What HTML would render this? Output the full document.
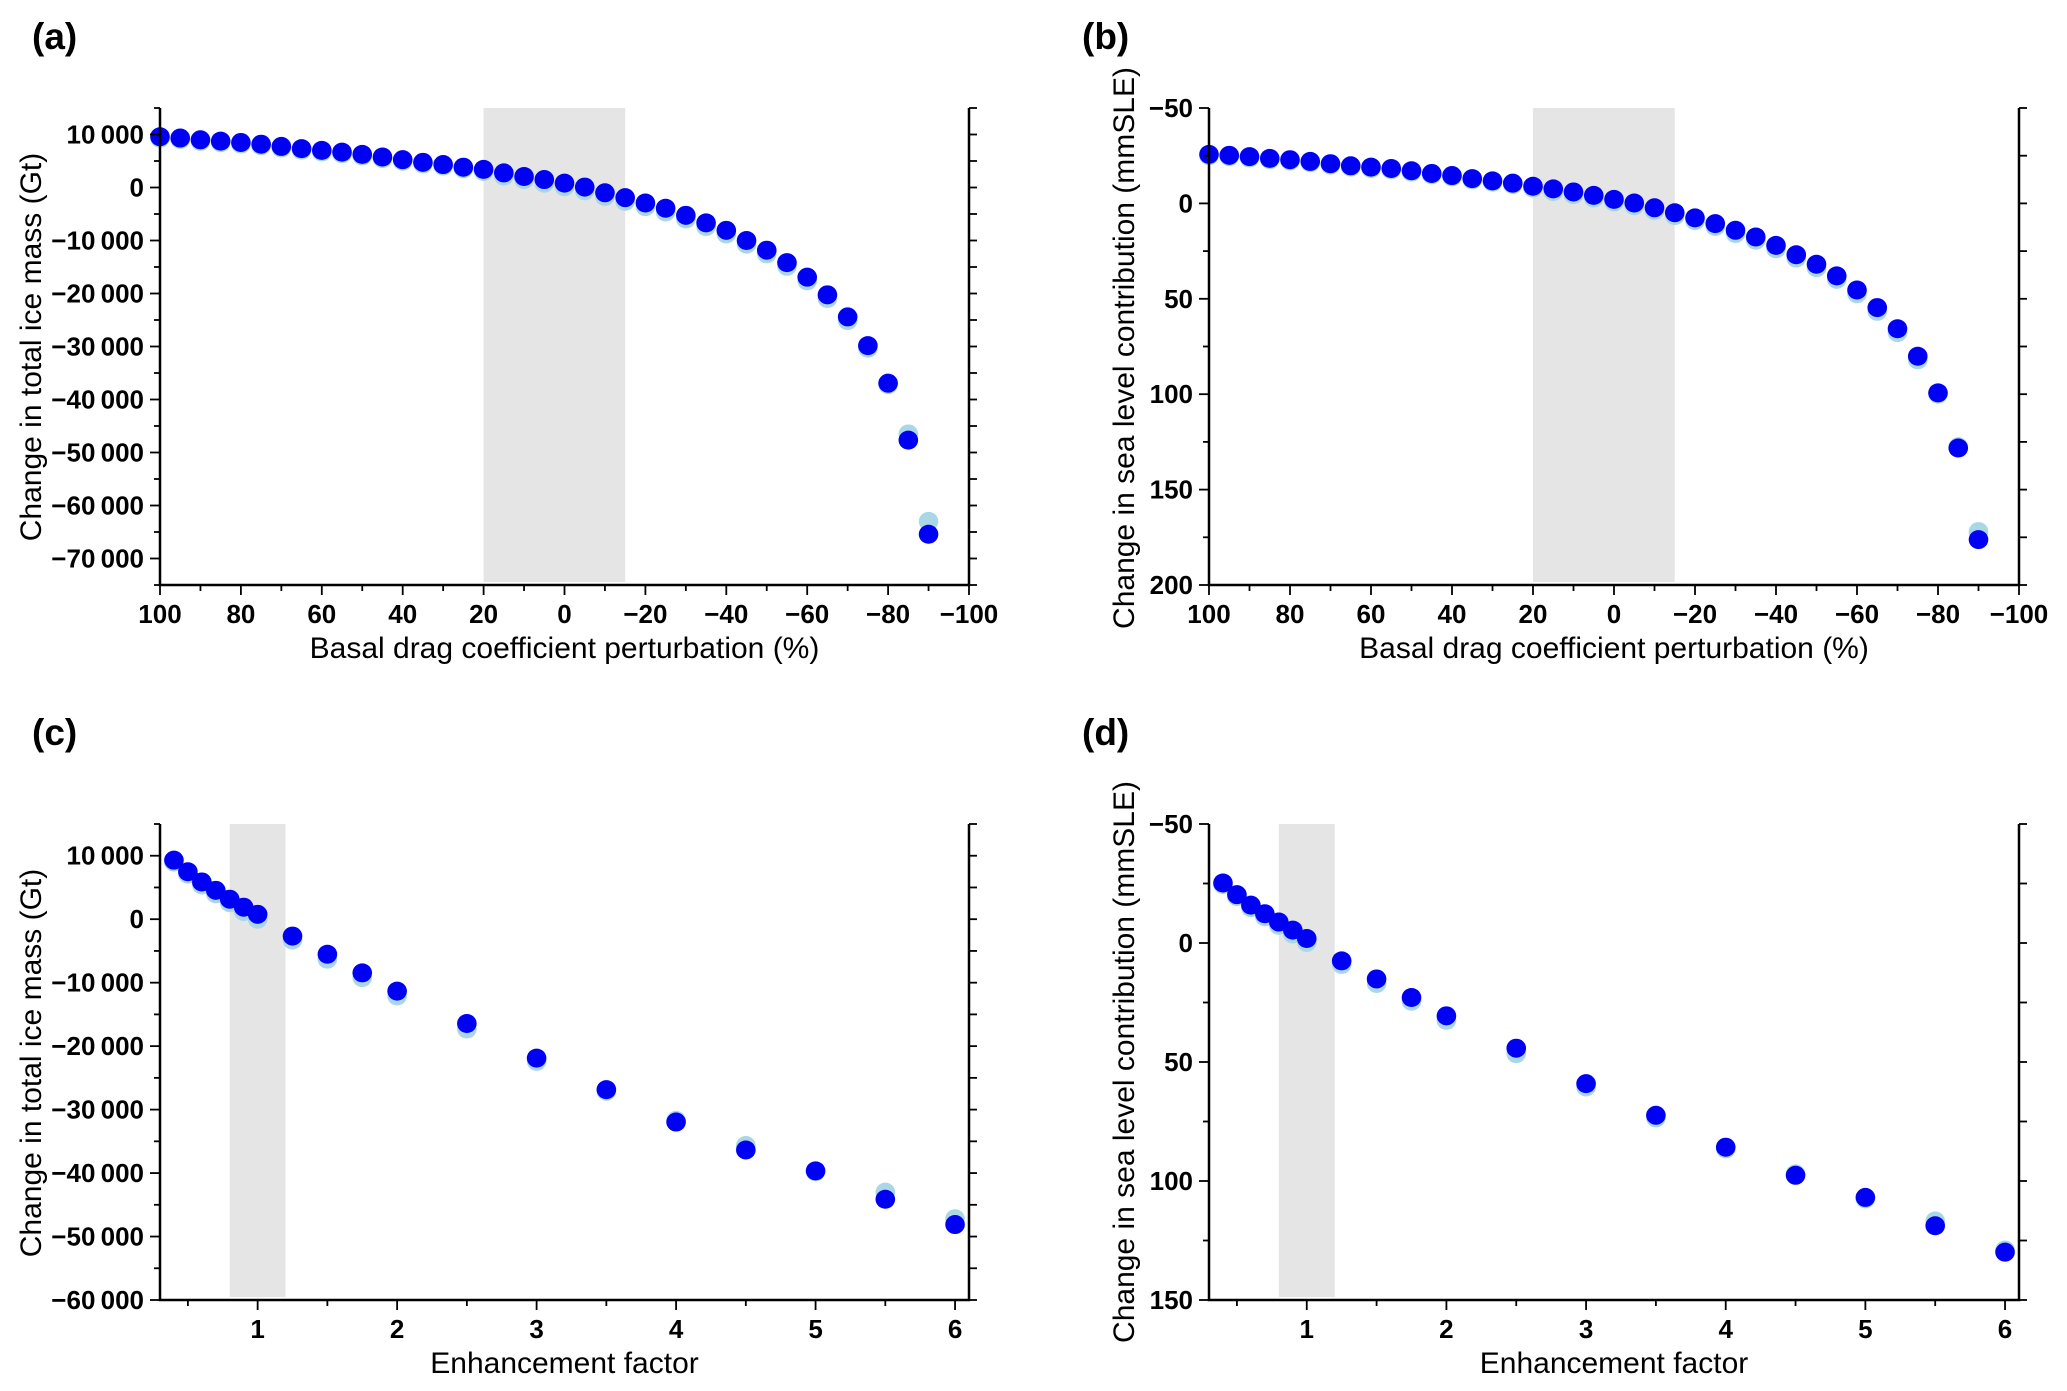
<!DOCTYPE html>
<html><head><meta charset="utf-8"><style>
html,body{margin:0;padding:0;background:#fff;}
svg{display:block;font-family:"Liberation Sans",sans-serif;}
</style></head><body>
<svg id="fig" width="2067" height="1391" viewBox="0 0 2067 1391" xmlns="http://www.w3.org/2000/svg">
<rect width="2067" height="1391" fill="#fff"/>
</svg>
<script>
// Panel (a)/(b) x categories
const basalX = [100,95,90,85,80,75,70,65,60,55,50,45,40,35,30,25,20,15,10,5,0,-5,-10,-15,-20,-25,-30,-35,-40,-45,-50,-55,-60,-65,-70,-75,-80,-85,-90];
const massA_dark = [9580,9330,9000,8750,8500,8170,7750,7330,7000,6670,6250,5750,5250,4750,4330,3830,3420,2750,2080,1500,830,80,-1000,-1920,-2920,-3920,-5250,-6670,-8080,-10000,-11830,-14170,-16920,-20250,-24420,-29830,-36920,-47670,-65420];
const massA_light = [9300,9050,8700,8450,8200,7870,7450,7030,6700,6370,5950,5450,4950,4450,4030,3530,3020,2150,1480,800,130,-620,-1700,-2620,-3620,-4620,-5950,-7370,-8780,-10700,-12530,-14870,-17620,-20950,-25120,-30330,-37200,-46500,-63000];
const slrB_dark = [-25.7,-25.2,-24.5,-23.6,-22.9,-22,-20.8,-19.7,-19,-18.3,-17.1,-15.7,-14.6,-13,-11.8,-10.6,-9,-7.6,-6,-4.2,-2.1,-0.2,2.3,4.9,7.6,10.6,14.1,17.6,22,26.9,31.9,38,45.4,54.6,65.7,80.1,99.3,128.2,176.2];
const slrB_light = [-25,-24.5,-23.8,-22.9,-22.2,-21.3,-20.1,-19,-18.3,-17.6,-16.4,-15,-13.9,-12.3,-11.1,-9.9,-8,-6.2,-4.6,-2.8,-0.7,1.2,3.8,6.4,9.1,12.1,15.8,19.3,23.8,28.7,33.7,39.8,47.4,56.6,67.7,82,100,127.5,172];
// Panel (c)/(d) x categories
const enhX = [0.4,0.5,0.6,0.7,0.8,0.9,1.0,1.25,1.5,1.75,2,2.5,3,3.5,4,4.5,5,5.5,6];
const massC_dark = [9300,7480,5870,4550,3150,1890,770,-2660,-5520,-8460,-11330,-16430,-21890,-26850,-31960,-36360,-39650,-44130,-48110];
const massC_light = [9000,7100,5400,4000,2600,1200,0,-3300,-6300,-9200,-12100,-17300,-22400,-27100,-31700,-35660,-39800,-43000,-47200];
const slrD_dark = [-25.2,-20.3,-15.9,-12.3,-8.8,-5.4,-1.9,7.5,15.1,22.9,30.6,44.2,59.1,72.4,85.8,97.6,106.9,118.8,129.9];
const slrD_light = [-24.6,-19.5,-14.8,-11,-7.4,-3.8,-0.2,9,17,24.5,32.5,46.5,60.5,73.5,86.5,97,107.5,116.8,129];
// Tick labels
const basalTicks = [100,80,60,40,20,0,-20,-40,-60,-80,-100];
const enhTicks = [1,2,3,4,5,6];
const massATicks = [10000,0,-10000,-20000,-30000,-40000,-50000,-60000,-70000];
const massCTicks = [10000,0,-10000,-20000,-30000,-40000,-50000,-60000];
const slrBTicks = [-50,0,50,100,150,200];
const slrDTicks = [-50,0,50,100,150];

const NS = "http://www.w3.org/2000/svg";
const svg = document.getElementById('fig');
function mk(tag, attrs, parent){
  const e = document.createElementNS(NS, tag);
  for (const k in attrs) e.setAttribute(k, attrs[k]);
  (parent||svg).appendChild(e);
  return e;
}
function fmt(v){
  const s = Math.abs(v) >= 10000 ? String(Math.abs(v)).replace(/(\d+)(\d{3})$/, '$1\u2009$2') : String(Math.abs(v));
  return (v < 0 ? '\u2212' : '') + s;
}
function panel(cfg){
  const g = mk('g', {});
  
  
  const sx = v => cfg.L + (v - cfg.x0) / (cfg.x1 - cfg.x0) * (cfg.R - cfg.L);
  const sy = v => cfg.T + (v - cfg.y0) / (cfg.y1 - cfg.y0) * (cfg.B - cfg.T);
  const sh = mk('rect', {x: sx(cfg.shade[0]), y: cfg.T, width: sx(cfg.shade[1]) - sx(cfg.shade[0]), height: cfg.B - cfg.T - 3, fill: '#e5e5e5'}, g);
  
  
  const ptsL = mk('g', {}, g);
  
  
  cfg.xs.forEach((x, i) => {
    const c = mk('ellipse', {cx: sx(x), cy: sy(cfg.light[i]), rx: 9.8, ry: 9.5, fill: '#a9d7e6'}, ptsL);
    
    
  });
  const ptsD = mk('g', {}, g);
  
  
  cfg.xs.forEach((x, i) => {
    const c = mk('ellipse', {cx: sx(x), cy: sy(cfg.dark[i]), rx: 9.8, ry: 9.5, fill: '#0000f5'}, ptsD);
    
    
  });
  const ax = mk('path', {d: `M${cfg.L},${cfg.T} V${cfg.B} H${cfg.R} V${cfg.T}`, fill: 'none', stroke: '#000', 'stroke-width': 2.5}, g);
  
  
  for (let v = cfg.y0; cfg.y0 < cfg.y1 ? v <= cfg.y1 + 1e-9 : v >= cfg.y1 - 1e-9; v += cfg.yMinor * Math.sign(cfg.y1 - cfg.y0)) {
    const major = cfg.yTicks.some(t => Math.abs(t - v) < 1e-6);
    const len = major ? 10 : 6;
    const y = sy(v);
    mk('line', {x1: cfg.L - len, x2: cfg.L, y1: y, y2: y, stroke: '#000', 'stroke-width': 1.8}, g);
    mk('line', {x1: cfg.R, x2: cfg.R + 8, y1: y, y2: y, stroke: '#000', 'stroke-width': 1.8}, g);
  }
  cfg.yTicks.forEach(v => {
    const t = mk('text', {x: cfg.L - 16, y: sy(v) + 9, 'text-anchor': 'end', 'font-size': 26, 'font-weight': 'bold'}, g);
    t.textContent = fmt(v);
    
    
  });
  const dir = Math.sign(cfg.x1 - cfg.x0);
  let start = dir > 0 ? Math.ceil(cfg.x0 / cfg.xMinor - 1e-9) * cfg.xMinor : Math.floor(cfg.x0 / cfg.xMinor + 1e-9) * cfg.xMinor;
  for (let v = start; dir > 0 ? v <= cfg.x1 + 1e-9 : v >= cfg.x1 - 1e-9; v += cfg.xMinor * dir) {
    const major = cfg.xTicks.some(t => Math.abs(t - v) < 1e-6);
    const len = major ? 10 : 6;
    const x = sx(v);
    mk('line', {x1: x, x2: x, y1: cfg.B, y2: cfg.B + len, stroke: '#000', 'stroke-width': 1.8}, g);
  }
  cfg.xTicks.forEach(v => {
    const t = mk('text', {x: sx(v), y: cfg.B + 38, 'text-anchor': 'middle', 'font-size': 26, 'font-weight': 'bold'}, g);
    t.textContent = fmt(v);
    
    
  });
  const xt = mk('text', {x: (cfg.L + cfg.R) / 2, y: cfg.B + 73, 'text-anchor': 'middle', 'font-size': 30}, g);
  xt.textContent = cfg.xTitle;
  
  
  const yt = mk('text', {x: 0, y: 0, 'text-anchor': 'middle', 'font-size': 30, transform: `translate(${cfg.yTitleX},${cfg.yTitleY}) rotate(-90)`}, g);
  yt.textContent = cfg.yTitle;
  
  
  const pl = mk('text', {x: cfg.labX, y: cfg.labY, 'font-size': 37, 'font-weight': 'bold'}, g);
  pl.textContent = cfg.label;
  
  
}
panel({name:'panel-a', label:'(a)', labX:32, labY:49, L:160, R:969, T:108, B:585, x0:100, x1:-100, y0:15000, y1:-75000,
  xs:basalX, dark:massA_dark, light:massA_light, shade:[20,-15], xTicks:basalTicks, xMinor:10, yTicks:massATicks, yMinor:5000,
  xTitle:'Basal drag coefficient perturbation (%)', yTitle:'Change in total ice mass (Gt)', yTitleX:41, yTitleY:347});
panel({name:'panel-b', label:'(b)', labX:1082, labY:49, L:1209, R:2019, T:108, B:585, x0:100, x1:-100, y0:-50, y1:200,
  xs:basalX, dark:slrB_dark, light:slrB_light, shade:[20,-15], xTicks:basalTicks, xMinor:10, yTicks:slrBTicks, yMinor:25,
  xTitle:'Basal drag coefficient perturbation (%)', yTitle:'Change in sea level contribution (mmSLE)', yTitleX:1134, yTitleY:348});
panel({name:'panel-c', label:'(c)', labX:32, labY:745, L:160, R:969, T:824, B:1300, x0:0.3, x1:6.1, y0:15000, y1:-60000,
  xs:enhX, dark:massC_dark, light:massC_light, shade:[0.8,1.2], xTicks:enhTicks, xMinor:0.5, yTicks:massCTicks, yMinor:5000,
  xTitle:'Enhancement factor', yTitle:'Change in total ice mass (Gt)', yTitleX:41, yTitleY:1063});
panel({name:'panel-d', label:'(d)', labX:1082, labY:745, L:1209, R:2019, T:824, B:1300, x0:0.3, x1:6.1, y0:-50, y1:150,
  xs:enhX, dark:slrD_dark, light:slrD_light, shade:[0.8,1.2], xTicks:enhTicks, xMinor:0.5, yTicks:slrDTicks, yMinor:25,
  xTitle:'Enhancement factor', yTitle:'Change in sea level contribution (mmSLE)', yTitleX:1134, yTitleY:1062});
</script>
</body></html>
